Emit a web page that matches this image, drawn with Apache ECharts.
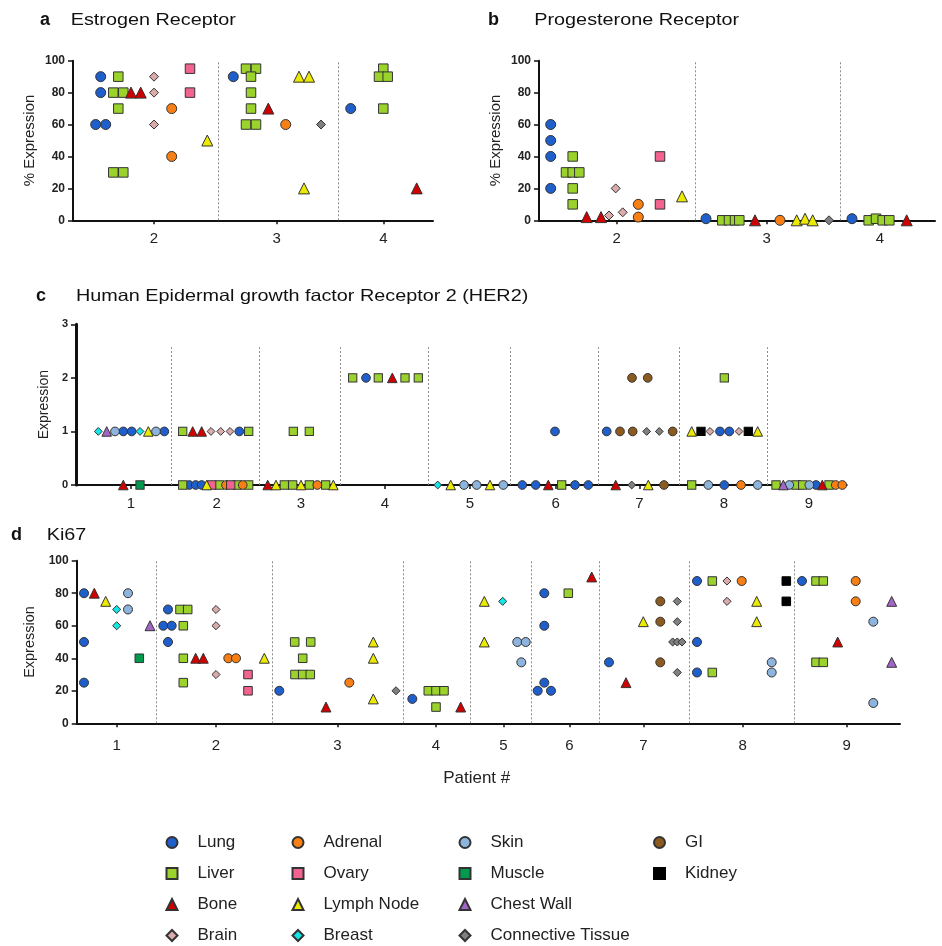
<!DOCTYPE html>
<html><head><meta charset="utf-8">
<script src="https://cdn.jsdelivr.net/npm/echarts@6/dist/echarts.min.js"></script>
<style>html,body{margin:0;padding:0;background:#fff}#c{width:942px;height:946px}</style>
</head><body><div id="c"></div><script>
// ---------- categories & styles ----------
const tissues = ['Lung','Liver','Bone','Brain','Adrenal','Ovary','Lymph Node','Breast','Skin','Muscle','Chest Wall','Connective Tissue','GI','Kidney'];
const tissueColors = ['#1f5fcc','#9bd22b','#d00000','#d9abab','#f77f14','#f2648f','#ecea00','#12e6e6','#8db4dd','#009a4e','#a365c6','#808080','#8b5a1f','#000000'];
const tissueSymbols = ['circle','rect','triangle','diamond','circle','rect','triangle','diamond','circle','rect','triangle','diamond','circle','rect'];
const legendColumns = [['Lung','Liver','Bone','Brain'],['Adrenal','Ovary','Lymph Node','Breast'],['Skin','Muscle','Chest Wall','Connective Tissue'],['GI','Kidney']];

// ---------- panel a: Estrogen Receptor [tissue, position along axis, % expression] ----------
const erTickPos = [154, 276.7, 383.3];
const erTickLabels = ['2','3','4'];
const erSeparators = [218.3, 338.3];
const erPoints = [
 ['Lung',100.7,90],['Lung',100.7,80],['Lung',95.7,60],['Lung',105.7,60],['Lung',233.3,90],['Lung',350.7,70],
 ['Liver',118.3,90],['Liver',113.3,80],['Liver',123.3,80],['Liver',118.3,70],['Liver',113.3,30],['Liver',123.3,30],
 ['Liver',246,95],['Liver',256,95],['Liver',251,90],['Liver',251,80],['Liver',251,70],['Liver',246,60],['Liver',256,60],
 ['Liver',383.3,95],['Liver',379,90],['Liver',387.7,90],['Liver',383.3,70],
 ['Bone',131,80],['Bone',140.7,80],['Bone',268.3,70],['Bone',416.7,20],
 ['Brain',154,90],['Brain',154,80],['Brain',154,60],
 ['Adrenal',171.7,70],['Adrenal',171.7,40],['Adrenal',285.7,60],
 ['Ovary',190,95],['Ovary',190,80],
 ['Lymph Node',207.3,50],['Lymph Node',299,90],['Lymph Node',309,90],['Lymph Node',304,20],
 ['Connective Tissue',321,60]
];

// ---------- panel b: Progesterone Receptor ----------
const prTickPos = [616.7, 766.7, 880];
const prTickLabels = ['2','3','4'];
const prSeparators = [695.7, 840.7];
const prPoints = [
 ['Lung',550.7,60],['Lung',550.7,50],['Lung',550.7,40],['Lung',550.7,20],['Lung',706,1],['Lung',852,1],
 ['Liver',572.7,40],['Liver',566,30],['Liver',572.7,30],['Liver',579.3,30],['Liver',572.7,20],['Liver',572.7,10],
 ['Liver',722.3,0],['Liver',729,0],['Liver',735,0],['Liver',739.3,0],
 ['Liver',868.7,0],['Liver',876,1],['Liver',882.7,0],['Liver',889.3,0],
 ['Bone',586.7,2],['Bone',601,2],['Bone',755,0],['Bone',906.7,0],
 ['Brain',609,3],['Brain',615.7,20],['Brain',622.7,5],
 ['Adrenal',638.3,10],['Adrenal',638.3,2],['Adrenal',780,0],
 ['Ovary',660,40],['Ovary',660,10],
 ['Lymph Node',682,15],['Lymph Node',796.7,0],['Lymph Node',805,1],['Lymph Node',812.7,0],
 ['Connective Tissue',829,0]
];

// ---------- panel c: HER2 ----------
const her2TickPos = [131, 216.7, 301, 385, 470, 555.7, 639.3, 724, 809];
const her2TickLabels = ['1','2','3','4','5','6','7','8','9'];
const her2Separators = [171.7, 259.7, 340, 428.3, 510, 598, 679.3, 767.7];
const her2Points = [
 ['Breast',98.3,1],['Chest Wall',106.7,1],['Skin',115,1],['Lung',123.3,1],['Lung',131.7,1],['Breast',140,1],['Lymph Node',148.3,1],['Skin',156,1],['Lung',164.3,1],
 ['Bone',123.3,0],['Muscle',140,0],
 ['Liver',182.7,1],['Bone',192.7,1],['Bone',201.7,1],['Brain',211,1],['Brain',220.7,1],['Brain',230,1],['Lung',239.3,1],['Liver',248.7,1],
 ['Liver',182.7,0],['Lung',189.3,0],['Lung',195.7,0],['Lung',201.7,0],['Lymph Node',206.7,0],['Ovary',211.7,0],['Liver',219.3,0],['Adrenal',226,0],['Ovary',230.7,0],['Liver',237.3,0],['Adrenal',242.7,0],['Liver',248.7,0],
 ['Liver',293.3,1],['Liver',309.3,1],
 ['Bone',267.7,0],['Lymph Node',276,0],['Liver',284.3,0],['Liver',292.7,0],['Lymph Node',301,0],['Liver',309.3,0],['Adrenal',317.3,0],['Liver',325.7,0],['Lymph Node',333.3,0],
 ['Liver',352.7,2],['Lung',366,2],['Liver',378.3,2],['Bone',392.3,2],['Liver',405,2],['Liver',418.3,2],
 ['Breast',437.7,0],['Lymph Node',450.7,0],['Skin',464,0],['Skin',476.7,0],['Lymph Node',490,0],['Skin',503.3,0],
 ['Lung',522.3,0],['Lung',535.7,0],['Bone',548.3,0],['Liver',561.7,0],['Lung',575,0],['Lung',588.3,0],['Lung',555,1],
 ['Bone',615.7,0],['Connective Tissue',631.7,0],['Lymph Node',648.3,0],['GI',664,0],
 ['Lung',606.7,1],['GI',620,1],['GI',632.7,1],['Connective Tissue',646.7,1],['Connective Tissue',659.3,1],['GI',672.7,1],['GI',632,2],['GI',647.7,2],
 ['Liver',691.7,0],['Skin',708.3,0],['Lung',724.3,0],['Adrenal',741,0],['Skin',757.7,0],
 ['Lymph Node',691.7,1],['Kidney',701,1],['Brain',710,1],['Lung',720,1],['Lung',729.3,1],['Brain',739,1],['Kidney',748.3,1],['Lymph Node',757.7,1],['Liver',724.3,2],
 ['Liver',776,0],['Chest Wall',783.3,0],['Skin',789.3,0],['Liver',796,0],['Liver',802.7,0],['Skin',809.3,0],['Lung',816,0],['Bone',822.3,0],['Liver',829,0],['Adrenal',835.7,0],['Adrenal',842.3,0]
];

// ---------- panel d: Ki67 ----------
const ki67TickPos = [116.7, 216, 337.3, 436, 503.3, 569.3, 643.3, 742.7, 846.7];
const ki67TickLabels = ['1','2','3','4','5','6','7','8','9'];
const ki67Separators = [156, 272.7, 403.3, 470, 531, 599.3, 689.3, 794];
const ki67Points = [
 ['Lung',84,80],['Lung',84,50],['Lung',84,25],['Bone',94.3,80],['Lymph Node',105.7,75],['Breast',116.7,70],['Breast',116.7,60],
 ['Skin',128,80],['Skin',128,70],['Muscle',139.3,40],['Chest Wall',150,60],
 ['Lung',168,70],['Lung',163.3,60],['Lung',171.7,60],['Lung',168,50],
 ['Liver',180,70],['Liver',187.7,70],['Liver',183.3,60],['Liver',183.3,40],['Liver',183.3,25],
 ['Bone',195.7,40],['Bone',203.3,40],['Brain',216,70],['Brain',216,60],['Brain',216,30],
 ['Adrenal',228.3,40],['Adrenal',236,40],['Ovary',248,30],['Ovary',248,20],['Lymph Node',264.3,40],
 ['Lung',279.3,20],['Liver',294.7,50],['Liver',310.7,50],['Liver',302.7,40],['Liver',295,30],['Liver',302.7,30],['Liver',310.3,30],
 ['Bone',326,10],['Adrenal',349.3,25],['Lymph Node',373.3,50],['Lymph Node',373.3,40],['Lymph Node',373.3,15],['Connective Tissue',396,20],
 ['Lung',412.3,15],['Liver',428.3,20],['Liver',436,20],['Liver',444,20],['Liver',436,10],['Bone',460.7,10],
 ['Lymph Node',484.3,75],['Lymph Node',484.3,50],['Breast',502.7,75],['Skin',517.3,50],['Skin',525.7,50],['Skin',521.3,37.5],
 ['Lung',544.3,80],['Lung',544.3,60],['Lung',544.3,25],['Lung',537.7,20],['Lung',551,20],['Liver',568.3,80],['Bone',591.7,90],
 ['Lung',609,37.5],['Bone',626,25],['Lymph Node',643.3,62.5],['GI',660.3,75],['GI',660.3,62.5],['GI',660.3,37.5],
 ['Connective Tissue',677.3,75],['Connective Tissue',677.3,62.5],['Connective Tissue',672.7,50],['Connective Tissue',677.3,50],['Connective Tissue',682,50],['Connective Tissue',677.3,31.25],
 ['Lung',697,87.5],['Lung',697,50],['Lung',697,31.25],['Liver',712.3,87.5],['Liver',712.3,31.25],['Brain',727,87.5],['Brain',727,75],
 ['Adrenal',741.7,87.5],['Lymph Node',756.7,75],['Lymph Node',756.7,62.5],['Skin',771.7,37.5],['Skin',771.7,31.25],['Kidney',786.3,87.5],['Kidney',786.3,75],
 ['Lung',802,87.5],['Liver',816,87.5],['Liver',823.3,87.5],['Liver',816,37.5],['Liver',823.3,37.5],['Bone',837.7,50],
 ['Adrenal',855.7,87.5],['Adrenal',855.7,75],['Skin',873.3,62.5],['Skin',873.3,12.5],['Chest Wall',891.7,75],['Chest Wall',891.7,37.5]
];

// ---------- layout (positions / styles) ----------
const FONT = 'Liberation Sans, Arial, Helvetica, sans-serif';
const panels = [
 {pts: erPoints, ticks: erTickPos, labels: erTickLabels, seps: erSeparators, sepTop: 100,
  grid: {left: 73, top: 60.7, width: 360, height: 159.6}, ymax: 100, yint: 20, yname: '% Expression', nameGap: 36, nameSize: 15, yw: 2, xw: 2, lblMargin: 11, ylbl: 12, sz: 1},
 {pts: prPoints, ticks: prTickPos, labels: prTickLabels, seps: prSeparators, sepTop: 100,
  grid: {left: 539, top: 60.7, width: 396, height: 159.6}, ymax: 100, yint: 20, yname: '% Expression', nameGap: 36, nameSize: 15, yw: 2, xw: 2, lblMargin: 11, ylbl: 12, sz: 1},
 {pts: her2Points, ticks: her2TickPos, labels: her2TickLabels, seps: her2Separators, sepTop: 2.57,
  grid: {left: 76, top: 324.3, width: 770.7, height: 160.7}, ymax: 3, yint: 1, yname: 'Expression', nameGap: 22, nameSize: 14, yw: 3, xw: 2, lblMargin: 11, ylbl: 11, sz: 0.87},
 {pts: ki67Points, ticks: ki67TickPos, labels: ki67TickLabels, seps: ki67Separators, sepTop: 100,
  grid: {left: 76.7, top: 560.7, width: 823.3, height: 162.6}, ymax: 100, yint: 20, yname: 'Expression', nameGap: 35, nameSize: 14.5, yw: 2, xw: 2, lblMargin: 15, ylbl: 12, sz: 0.9}
];
const baseSize = {circle: 10, rect: 9.5, triangle: 11, diamond: 9};

const grids = [], xAxes = [], yAxes = [], series = [];
panels.forEach((p, pi) => {
  grids.push(Object.assign({outerBoundsMode: 'none', containLabel: false}, p.grid));
  const ticks = p.ticks, labels = p.labels;
  xAxes.push({
    type: 'value', gridIndex: pi, min: p.grid.left, max: p.grid.left + p.grid.width,
    splitLine: {show: false},
    axisLine: {show: true, onZero: false, lineStyle: {color: '#111', width: p.xw}},
    axisTick: {show: true, customValues: ticks, length: 4, lineStyle: {color: '#111', width: 1.5}},
    axisLabel: {show: true, customValues: ticks, margin: p.lblMargin, fontSize: 15, fontFamily: FONT, color: '#222',
      formatter: v => { let b = 0; ticks.forEach((t, i) => { if (Math.abs(t - v) < Math.abs(ticks[b] - v)) b = i; }); return labels[b]; }}
  });
  yAxes.push({
    type: 'value', gridIndex: pi, min: 0, max: p.ymax, interval: p.yint,
    splitLine: {show: false},
    axisLine: {show: true, lineStyle: {color: '#111', width: p.yw}},
    axisTick: {show: true, length: 5, lineStyle: {color: '#111', width: 1.5}},
    axisLabel: {fontWeight: 'bold', fontSize: p.ylbl, fontFamily: FONT, color: '#222', margin: 8},
    name: p.yname, nameLocation: 'middle', nameGap: p.nameGap,
    nameTextStyle: {fontSize: p.nameSize, fontFamily: FONT, color: '#222'}
  });
  let first = true;
  tissues.forEach((t, ti) => {
    const data = p.pts.filter(r => r[0] === t).map(r => [r[1], r[2]]);
    if (!data.length) return;
    const sym = tissueSymbols[ti];
    const s = {
      type: 'scatter', name: t, xAxisIndex: pi, yAxisIndex: pi, data: data,
      symbol: sym, symbolSize: baseSize[sym] * p.sz, z: 3,
      itemStyle: {color: tissueColors[ti], borderColor: t === 'Kidney' ? '#000' : '#333', borderWidth: 1, opacity: 1},
      emphasis: {disabled: true}, animation: false
    };
    if (first) {
      s.markLine = {silent: true, symbol: ['none', 'none'], label: {show: false}, animation: false, z: 1,
        lineStyle: {color: '#8a8a8a', type: [2, 2], width: 1},
        data: p.seps.map(v => [{coord: [v, 0]}, {coord: [v, p.sepTop]}])};
      first = false;
    }
    series.push(s);
  });
});

const legendCenters = [171, 297, 464, 658.5];
const legends = legendColumns.map((names, i) => ({
  orient: 'vertical', left: legendCenters[i] - 5.5, top: 834, padding: 0, height: 110,
  itemWidth: 11, itemHeight: 11, itemGap: 14,
  data: names, selectedMode: false,
  textStyle: {fontSize: 17, fontFamily: FONT, color: '#222', lineHeight: 16, padding: [0, 0, 0, 15]}
}));

function titleText(x, y, text, bold) {
  return {type: 'text', x: x, y: y, scaleX: bold ? 1 : 1.2, silent: true,
    style: {text: text, fontSize: bold ? 18 : 16.5, fontWeight: bold ? 'bold' : 'normal', fontFamily: FONT,
      fill: '#111', align: 'left', verticalAlign: 'middle'}};
}
const graphics = [
  titleText(40, 20, 'a', true), titleText(70.7, 20, 'Estrogen Receptor', false),
  titleText(488, 20, 'b', true), titleText(534.3, 20, 'Progesterone Receptor', false),
  titleText(36, 296, 'c', true), titleText(76, 296, 'Human Epidermal growth factor Receptor 2 (HER2)', false),
  titleText(11, 535, 'd', true), titleText(46.7, 535, 'Ki67', false),
  {type: 'text', x: 476.7, y: 778, silent: true,
   style: {text: 'Patient #', fontSize: 17, fontFamily: FONT, fill: '#222', align: 'center', verticalAlign: 'middle'}}
];

const chart = echarts.init(document.getElementById('c'), null, {renderer: 'canvas'});
chart.setOption({
  animation: false,
  backgroundColor: '#fff',
  grid: grids, xAxis: xAxes, yAxis: yAxes, series: series,
  legend: legends, graphic: graphics
});
</script></body></html>
